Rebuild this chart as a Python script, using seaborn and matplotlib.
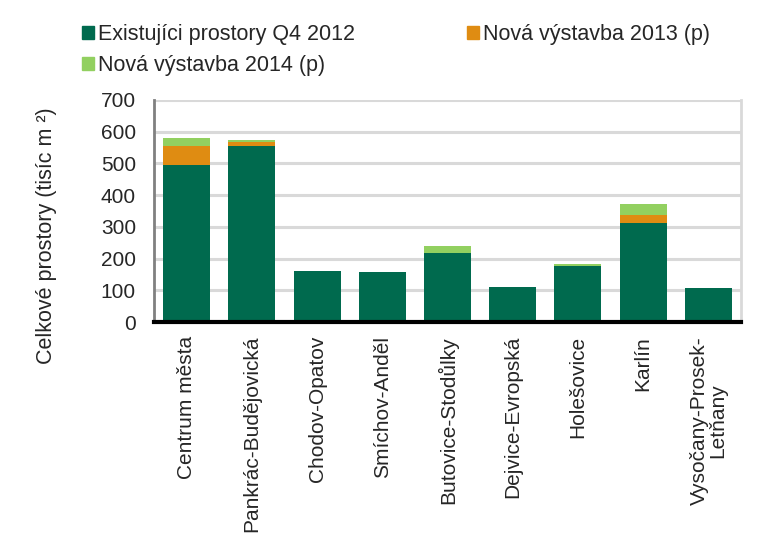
import pandas as pd
import matplotlib
matplotlib.use("Agg")
import matplotlib.pyplot as plt
from matplotlib.patches import Patch
import seaborn as sns

# data (tisíc m2)
lokality = ["Centrum města", "Pankrác-Budějovická", "Chodov-Opatov", "Smíchov-Anděl",
            "Butovice-Stodůlky", "Dejvice-Evropská", "Holešovice", "Karlín",
            "Vysočany-Prosek-\nLetňany"]
existujici = [495, 556, 160, 158, 217, 110, 176, 313, 108]
vystavba_2013 = [61, 10, 0, 0, 0, 0, 0, 25, 0]
vystavba_2014 = [23, 7, 0, 0, 24, 0, 6, 35, 0]
y_ticks = [0, 100, 200, 300, 400, 500, 600, 700]

c_exist = "#006A4E"
c_2013 = "#DF8C12"
c_2014 = "#92D060"

df = pd.DataFrame({"lokalita": lokality, "exist": existujici,
                   "v2013": vystavba_2013, "v2014": vystavba_2014})
df["do2013"] = df["exist"] + df["v2013"]
df["celkem"] = df["do2013"] + df["v2014"]

sns.set_style("white")
plt.rcParams["font.family"] = ["Liberation Sans", "DejaVu Sans"]

fig = plt.figure(figsize=(7.82, 5.51), dpi=100)
ax = fig.add_axes([0.197, 0.4156, 0.7506, 0.403])

# stacked bars: draw cumulative totals from the top layer down
bar_kw = dict(saturation=1, width=0.72, ax=ax, zorder=3, linewidth=0, edgecolor="none")
sns.barplot(data=df, x="lokalita", y="celkem", color=c_2014, **bar_kw)
sns.barplot(data=df, x="lokalita", y="do2013", color=c_2013, **bar_kw)
sns.barplot(data=df, x="lokalita", y="exist", color=c_exist, **bar_kw)

ax.set_ylim(0, 700)
ax.set_yticks(y_ticks)
ax.set_xlim(-0.5, len(lokality) - 0.5)
ax.yaxis.grid(True, color="#D9D9D9", linewidth=2.2, zorder=0)
ax.set_axisbelow(True)
ax.tick_params(axis="y", length=0, labelsize=15, pad=13)
ax.tick_params(axis="x", length=0, labelsize=15, pad=10)
ax.set_xticks(range(len(lokality)))
ax.set_xticklabels(lokality, rotation=90, va="top", ha="center", linespacing=1.0)
ax.set_xlabel("")
ax.set_ylabel("Celkové prostory (tisíc m ²)", fontsize=15.5)
ax.yaxis.set_label_coords(-0.165, 0.387)

ax.spines["top"].set_visible(False)
ax.spines["left"].set_color("#808080")
ax.spines["left"].set_linewidth(2)
ax.spines["right"].set_color("#D9D9D9")
ax.spines["right"].set_linewidth(2)
ax.spines["bottom"].set_color("black")
ax.spines["bottom"].set_linewidth(3)
ax.spines["bottom"].set_zorder(5)

handles = [Patch(color=c_exist, label="Existujíci prostory Q4 2012"),
           Patch(color=c_2014, label="Nová výstavba 2014 (p)"),
           Patch(color=c_2013, label="Nová výstavba 2013 (p)")]
fig.legend(handles=handles, ncol=2, loc="upper left", bbox_to_anchor=(0.105, 0.956),
           frameon=False, fontsize=15.5, handlelength=0.55, handleheight=0.55,
           handletextpad=0.2, columnspacing=5.2, labelspacing=0.45,
           borderaxespad=0, borderpad=0)

fig.savefig("out.png", dpi=100)
